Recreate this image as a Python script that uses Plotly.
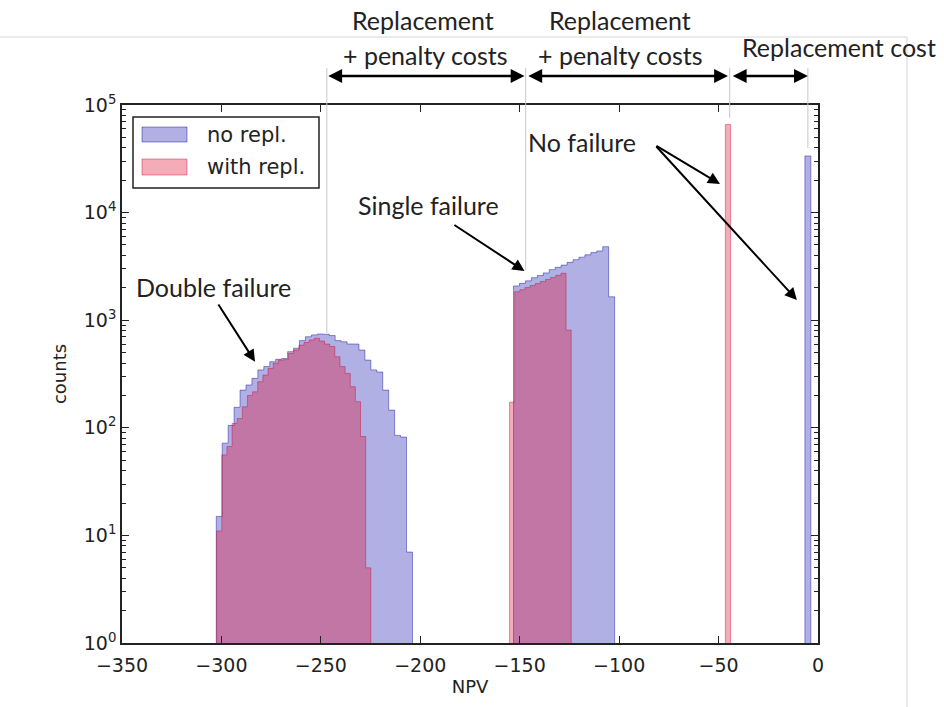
import numpy as np
import plotly.graph_objects as go

# ---------------------------------------------------------------------------
# Histogram data: NPV distribution of the simulated outcomes, counts per bin
# ---------------------------------------------------------------------------
N_BINS = 100

# "no repl." histogram bins
NO_REPL_EDGE0 = -302.6
NO_REPL_WIDTH = 2.99
no_repl_double = [15, 72, 105, 155, 224, 250, 288, 345, 371, 411, 433, 440,
                  510, 549, 646, 702, 730, 744, 740, 720, 646, 630, 601, 600,
                  528, 426, 345, 330, 224, 146, 85, 82, 7]
no_repl_single = [2080, 2200, 2320, 2480, 2600, 2750, 2950, 3100, 3250, 3450,
                  3650, 3850, 4050, 4250, 4400, 4820, 1650]
no_repl_none = [33600]
NO_REPL_STARTS = [0, 50, 99]

# "with repl." histogram bins
WITH_REPL_EDGE0 = -302.4
WITH_REPL_WIDTH = 2.584
with_repl_double = [11, 56, 67, 110, 122, 157, 200, 216, 268, 309, 357, 398,
                    426, 430, 492, 528, 587, 620, 655, 679, 640, 600, 570, 458,
                    371, 320, 241, 175, 83, 5]
with_repl_single = [173, 1840, 1920, 2010, 2100, 2190, 2290, 2390, 2500, 2610,
                    2730, 810]
with_repl_none = [66000]
WITH_REPL_STARTS = [0, 57, 99]

X_TICKS = [-350, -300, -250, -200, -150, -100, -50, 0]
Y_TICKS = [1, 10, 100, 1000, 10000, 100000]

BLUE_FILL = "rgba(0,0,170,0.31)"
BLUE_EDGE = "rgba(0,0,150,0.42)"
RED_FILL = "rgba(228,0,40,0.33)"
RED_EDGE = "rgba(200,0,40,0.40)"

FONT_AXES = "DejaVu Sans"
FONT_NOTE = "Lato"
TXT = "#222222"


def full_counts(segments, starts):
    counts = np.zeros(N_BINS)
    for seg, s in zip(segments, starts):
        counts[s:s + len(seg)] = seg
    return counts


def step_outline(edge0, width, counts, floor=0.1):
    """Closed step polygon of a histogram (stepfilled style)."""
    xs, ys = [edge0], [floor]
    for i, c in enumerate(counts):
        left = edge0 + i * width
        v = c if c > 0 else floor
        xs += [left, left + width]
        ys += [v, v]
    xs += [edge0 + len(counts) * width, edge0]
    ys += [floor, floor]
    return xs, ys


no_repl = full_counts([no_repl_double, no_repl_single, no_repl_none], NO_REPL_STARTS)
with_repl = full_counts([with_repl_double, with_repl_single, with_repl_none], WITH_REPL_STARTS)

fig = go.Figure()
bx, by = step_outline(NO_REPL_EDGE0, NO_REPL_WIDTH, no_repl)
fig.add_trace(go.Scatter(x=bx, y=by, mode="lines", fill="toself",
                         fillcolor=BLUE_FILL, line=dict(color=BLUE_EDGE, width=1),
                         name="no repl.", showlegend=False, hoverinfo="skip"))
rx, ry = step_outline(WITH_REPL_EDGE0, WITH_REPL_WIDTH, with_repl)
fig.add_trace(go.Scatter(x=rx, y=ry, mode="lines", fill="toself",
                         fillcolor=RED_FILL, line=dict(color=RED_EDGE, width=1),
                         name="with repl.", showlegend=False, hoverinfo="skip"))

# plot area in pixels (for paper-coordinate placement)
L, R, T, B = 122, 818, 105, 643
W, H = 944, 707


def px(xp):
    return (xp - L) / (R - L)


def py(yp):
    return (B - yp) / (B - T)


shapes = []
annotations = []

# slide frame lines
shapes.append(dict(type="line", xref="paper", yref="paper", x0=px(0), x1=px(907),
                   y0=py(37), y1=py(37), line=dict(color="#d6d6d6", width=1)))
shapes.append(dict(type="line", xref="paper", yref="paper", x0=px(907), x1=px(907),
                   y0=py(37), y1=py(707), line=dict(color="#d6d6d6", width=1)))

# vertical guide lines marking the cost levels
guides = [(-247.0, 333), (-147.0, 270), (-44.4, 118), (-5.1, 148)]
for gx, yend in guides:
    shapes.append(dict(type="line", xref="x", yref="paper", x0=gx, x1=gx,
                       y0=py(68), y1=py(yend), line=dict(color="#c8c8c8", width=1)))

# double-headed cost arrows
for x_start, x_end in [(-247.0, -147.6), (-146.4, -45.3), (-43.6, -5.1)]:
    annotations.append(dict(x=x_end, y=py(76), xref="x", yref="paper",
                            ax=x_start, ay=0, axref="x", ayref="pixel",
                            text="", showarrow=True, arrowside="end+start",
                            arrowhead=2, arrowsize=1.15, arrowwidth=2.4,
                            arrowcolor="black", standoff=0, startstandoff=0))


def note(text, xp, yp, size=25):
    annotations.append(dict(text=text, x=px(xp), y=py(yp), xref="paper", yref="paper",
                            showarrow=False, xanchor="center", yanchor="middle",
                            font=dict(family=FONT_NOTE, size=size, color=TXT)))


note("Replacement", 423, 20)
note("+ penalty costs", 425, 55)
note("Replacement", 620, 20)
note("+ penalty costs", 620, 55)
note("Replacement cost", 839, 47)

# in-plot labels with pointer arrows (data coordinates, log10 for y)
def label(text, x, ylog):
    annotations.append(dict(text=text, x=x, y=ylog, xref="x", yref="y",
                            showarrow=False, xanchor="center", yanchor="middle",
                            font=dict(family=FONT_NOTE, size=25, color=TXT)))


def pointer(x_tip, ylog_tip, x_tail, ylog_tail):
    annotations.append(dict(x=x_tip, y=ylog_tip, xref="x", yref="y",
                            ax=x_tail, ay=ylog_tail, axref="x", ayref="y",
                            text="", showarrow=True, arrowhead=2, arrowsize=1.2,
                            arrowwidth=2, arrowcolor="black", standoff=0))


label("Double failure", -304.2, 3.309)
pointer(-283.1, 2.614, -302.0, 3.16)
label("Single failure", -196.1, 4.07)
pointer(-147.6, 3.457, -183.6, 3.894)
label("No failure", -118.7, 4.656)
pointer(-49.3, 4.266, -82.0, 4.628)
pointer(-10.6, 3.188, -82.0, 4.628)

# legend box
shapes.append(dict(type="rect", xref="paper", yref="paper", x0=px(133), x1=px(319),
                   y0=py(188), y1=py(117), line=dict(color="#222222", width=1.5),
                   fillcolor="white", layer="above"))
for (fill, edge, name, y_top, y_bot, y_txt) in [
        (BLUE_FILL, BLUE_EDGE, "no repl.", 127, 142, 135),
        (RED_FILL, RED_EDGE, "with repl.", 159, 175, 167)]:
    shapes.append(dict(type="rect", xref="paper", yref="paper", x0=px(142), x1=px(187),
                       y0=py(y_bot), y1=py(y_top), line=dict(color=edge, width=1),
                       fillcolor=fill, layer="above"))
    annotations.append(dict(text=name, x=px(205), y=py(y_txt), xref="paper", yref="paper",
                            showarrow=False, xanchor="left", yanchor="middle",
                            font=dict(family=FONT_AXES, size=21, color=TXT)))

minor_vals = [m * 10 ** k for k in range(5) for m in range(2, 10)]

fig.update_layout(
    width=W, height=H, autosize=False,
    margin=dict(l=L, r=W - R, t=T, b=H - B),
    paper_bgcolor="white", plot_bgcolor="white",
    shapes=shapes, annotations=annotations,
    showlegend=False,
    xaxis=dict(range=[-350, 0], tickvals=X_TICKS,
               ticktext=[("\u2212" + str(-v)) if v < 0 else str(v) for v in X_TICKS],
               ticks="inside", ticklen=7, tickwidth=1.2, tickcolor="#222222",
               showline=True, linecolor="#222222", linewidth=1.5, mirror="allticks",
               showgrid=False, zeroline=False, ticklabelstandoff=4,
               tickfont=dict(family=FONT_AXES, size=19, color=TXT),
               title=dict(text="NPV", font=dict(family=FONT_AXES, size=18, color=TXT),
                          standoff=6)),
    yaxis=dict(type="log", range=[0, 5], tickvals=Y_TICKS,
               ticktext=["10<sup>%d</sup>" % k for k in range(6)],
               ticks="inside", ticklen=7, tickwidth=1.2, tickcolor="#222222",
               minor=dict(tickvals=minor_vals, ticks="inside", ticklen=4,
                          tickcolor="#222222", tickwidth=1, showgrid=False),
               showline=True, linecolor="#222222", linewidth=1.5, mirror="allticks",
               showgrid=False, zeroline=False,
               tickfont=dict(family=FONT_AXES, size=19, color=TXT),
               title=dict(text="counts", font=dict(family=FONT_AXES, size=18, color=TXT),
                          standoff=12)),
)

fig.write_html("out.html")
